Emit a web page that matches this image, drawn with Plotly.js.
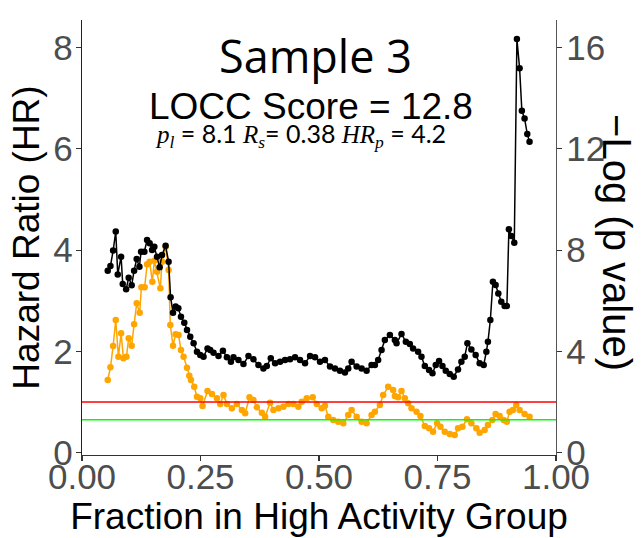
<!DOCTYPE html>
<html>
<head>
<meta charset="utf-8">
<script src="https://cdn.plot.ly/plotly-3.0.1.min.js"></script>
<style>html,body{margin:0;padding:0;background:#fff;}#chart{width:642px;height:538px;}</style>
</head>
<body>
<div id="chart"></div>
<script>
// Fraction in high activity group (x) and -log(p value) (right axis) for the black series
var pFrac = [0.0543,0.0600,0.0657,0.0712,0.0754,0.0825,0.0859,0.0931,0.0985,0.1048,0.1099,0.1154,0.1211,0.1246,0.1316,0.1373,0.1427,0.1478,0.1526,0.1583,0.1638,0.1688,0.1764,0.1827,0.1869,0.1920,0.1975,0.2032,0.2088,0.2158,0.2215,0.2284,0.2354,0.2425,0.2495,0.2564,0.2648,0.2705,0.2775,0.2880,0.2973,0.3057,0.3141,0.3196,0.3301,0.3406,0.3512,0.3617,0.3722,0.3827,0.3899,0.3983,0.4074,0.4179,0.4284,0.4389,0.4495,0.4600,0.4705,0.4811,0.4916,0.5021,0.5126,0.5232,0.5337,0.5442,0.5547,0.5617,0.5688,0.5794,0.5899,0.6004,0.6109,0.6179,0.6248,0.6320,0.6389,0.6495,0.6600,0.6636,0.6741,0.6832,0.6916,0.6985,0.7091,0.7162,0.7232,0.7322,0.7394,0.7463,0.7533,0.7604,0.7674,0.7758,0.7842,0.7933,0.8004,0.8074,0.8131,0.8215,0.8305,0.8389,0.8474,0.8531,0.8564,0.8615,0.8669,0.8726,0.8783,0.8846,0.8916,0.8964,0.9006,0.9057,0.9120,0.9175,0.9232,0.9280,0.9337,0.9394,0.9442];
var negLogP = [7.19,7.37,7.98,8.73,7.04,7.74,6.66,6.45,6.91,6.61,7.19,7.65,7.34,7.94,7.94,8.40,8.27,8.00,8.13,7.74,7.32,7.81,8.17,7.54,6.14,5.53,5.77,5.70,5.37,5.13,4.85,4.58,4.32,3.99,3.86,3.79,4.12,4.06,3.95,3.82,4.03,3.77,3.59,3.77,3.66,3.50,3.82,3.69,3.46,3.33,3.42,3.73,3.53,3.59,3.66,3.69,3.77,3.66,3.53,3.82,3.77,3.59,3.66,3.40,3.33,3.24,3.17,3.33,3.59,3.40,3.33,3.24,3.46,3.46,3.66,4.06,4.45,4.65,4.45,4.32,4.69,4.38,4.29,4.12,3.99,3.79,3.42,3.27,3.14,3.46,3.62,3.42,3.24,3.11,3.00,3.29,3.59,3.79,4.32,4.08,3.86,3.53,3.46,3.99,4.38,5.24,6.75,6.62,6.29,5.96,5.79,5.79,8.82,8.56,8.29,16.34,15.18,13.50,13.20,12.58,12.28];

// Fraction in high activity group (x) and hazard ratio (left axis) for the orange series
var hrFrac = [0.0543,0.0600,0.0657,0.0712,0.0768,0.0825,0.0874,0.0937,0.0985,0.1048,0.1099,0.1154,0.1217,0.1253,0.1322,0.1373,0.1427,0.1484,0.1526,0.1583,0.1653,0.1688,0.1764,0.1827,0.1863,0.1920,0.1975,0.2038,0.2088,0.2143,0.2215,0.2263,0.2299,0.2368,0.2425,0.2495,0.2543,0.2648,0.2741,0.2846,0.2916,0.2985,0.3057,0.3162,0.3267,0.3373,0.3442,0.3533,0.3617,0.3688,0.3794,0.3863,0.3968,0.4038,0.4143,0.4248,0.4354,0.4459,0.4564,0.4636,0.4741,0.4867,0.4952,0.5057,0.5126,0.5196,0.5301,0.5406,0.5512,0.5617,0.5688,0.5794,0.5899,0.6004,0.6109,0.6179,0.6284,0.6354,0.6459,0.6564,0.6600,0.6669,0.6741,0.6811,0.6880,0.6952,0.7057,0.7141,0.7232,0.7322,0.7406,0.7491,0.7562,0.7653,0.7758,0.7863,0.7933,0.8025,0.8122,0.8215,0.8320,0.8389,0.8495,0.8564,0.8657,0.8726,0.8811,0.8895,0.8964,0.9021,0.9091,0.9162,0.9232,0.9337,0.9442];
var hazardRatio = [1.435,1.686,2.107,2.620,1.895,2.357,1.864,1.895,2.259,2.113,2.535,2.950,2.764,3.266,3.266,3.720,3.771,3.376,3.791,3.574,3.246,3.771,4.067,3.607,2.521,2.113,2.338,2.324,2.028,1.895,1.678,1.520,1.435,1.303,1.106,1.074,0.922,1.218,1.159,1.074,0.962,1.139,0.962,0.877,0.962,0.843,0.778,1.094,1.040,0.896,0.790,0.711,0.987,0.843,0.877,0.908,0.962,0.962,0.908,1.007,1.074,1.094,0.962,0.877,0.928,0.711,0.646,0.612,0.580,0.744,0.843,0.711,0.612,0.580,0.744,0.809,0.942,1.139,1.303,1.238,1.119,1.094,1.218,1.074,0.975,0.877,0.809,0.725,0.527,0.482,0.415,0.580,0.513,0.415,0.369,0.349,0.482,0.513,0.659,0.580,0.482,0.395,0.448,0.547,0.646,0.764,0.725,0.646,0.612,0.809,0.843,0.942,0.843,0.764,0.711];

// Reference lines and tick labels
var hrRef = 1;
var pRef = -Math.log10(0.05);
var xTicks = [0, 0.25, 0.5, 0.75, 1];
var xTickText = ["0.00", "0.25", "0.50", "0.75", "1.00"];
var yTicks = [0, 2, 4, 6, 8];
var y2Ticks = [0, 4, 8, 12, 16];

var titleText = "Sample 3";
var scoreText = "LOCC Score = 12.8";
var mi = function (s) { return '<span style="font-family:Liberation Serif, serif"><i>' + s + '</i></span>'; };
var statsText = mi("p") + "<sub>" + mi("l") + "</sub> = 8.1 " + mi("R") + "<sub>" + mi("s") + "</sub>= 0.38 " + mi("HR") + "<sub>" + mi("p") + "</sub> = 4.2";

var tickFont = {family: "Liberation Sans, Arial, sans-serif", size: 35, color: "#4D4D4D"};
var titleFont = {family: "Liberation Sans, Arial, sans-serif", size: 37, color: "#000000"};

var traces = [
  {
    x: hrFrac, y: hazardRatio, type: "scatter", mode: "lines+markers",
    line: {color: "#FFA500", width: 1.5},
    marker: {color: "#FFA500", size: 6.5},
    yaxis: "y", hoverinfo: "x+y", name: "HR"
  },
  {
    x: pFrac, y: negLogP, type: "scatter", mode: "lines+markers",
    line: {color: "#000000", width: 1.5},
    marker: {color: "#000000", size: 6.5},
    yaxis: "y2", hoverinfo: "x+y", name: "-log p"
  }
];

var layout = {
  width: 642, height: 538,
  margin: {l: 81.5, r: 85.5, t: 20, b: 83, pad: 0},
  paper_bgcolor: "#ffffff", plot_bgcolor: "#ffffff",
  showlegend: false,
  xaxis: {
    range: [0, 1], tickvals: xTicks, ticktext: xTickText,
    showgrid: false, zeroline: false, showline: true, linecolor: "#333333", linewidth: 1.3,
    ticks: "outside", ticklen: 5, tickcolor: "#333333", tickwidth: 1.2,
    tickfont: tickFont, ticklabelstandoff: -14,
    title: {text: "Fraction in High Activity Group", font: titleFont, standoff: 0}
  },
  yaxis: {
    range: [-0.045, 8.543], tickvals: yTicks,
    showgrid: false, zeroline: false, showline: true, linecolor: "#222222", linewidth: 1.3,
    ticks: "outside", ticklen: 5, tickcolor: "#333333", tickwidth: 1.2,
    tickfont: tickFont, ticklabelstandoff: -4,
    title: {text: "Hazard Ratio (HR)", font: titleFont, standoff: 2}
  },
  yaxis2: {
    range: [-0.09, 17.086], tickvals: y2Ticks, overlaying: "y", side: "right",
    showgrid: false, zeroline: false, showline: true, linecolor: "#555555", linewidth: 1.3,
    ticks: "outside", ticklen: 5, tickcolor: "#333333", tickwidth: 1.2,
    tickfont: tickFont, ticklabelstandoff: -3
  },
  shapes: [
    {type: "line", xref: "paper", x0: 0, x1: 1, yref: "y", y0: hrRef, y1: hrRef,
     line: {color: "#FF0000", width: 1.5}, layer: "above"},
    {type: "line", xref: "paper", x0: 0, x1: 1, yref: "y2", y0: pRef, y1: pRef,
     line: {color: "#00FF00", width: 1.5}, layer: "above"}
  ],
  annotations: [
    {text: titleText, xref: "paper", yref: "paper", x: 0.4916, y: 0.9195, showarrow: false,
     xanchor: "center", yanchor: "middle", font: {family: "Open Sans, Lato, sans-serif", size: 45, color: "#000"}},
    {text: scoreText, xref: "paper", yref: "paper", x: 0.4832, y: 0.80, showarrow: false,
     xanchor: "center", yanchor: "middle", font: {family: "Liberation Sans, Arial, sans-serif", size: 37, color: "#000"}},
    {text: statsText, xref: "paper", yref: "paper", x: 0.462, y: 0.735, showarrow: false,
     xanchor: "center", yanchor: "middle", font: {family: "Lato, Noto Sans, sans-serif", size: 25, color: "#000"}},
    {text: "\u2212Log (p value)", xref: "paper", yref: "paper", x: 1.1295, y: 0.4885, showarrow: false,
     xanchor: "center", yanchor: "middle", textangle: 90, font: {family: "Liberation Sans, Arial, sans-serif", size: 40, color: "#000"}}
  ]
};

Plotly.newPlot("chart", traces, layout, {displayModeBar: false, staticPlot: true});
</script>
</body>
</html>
